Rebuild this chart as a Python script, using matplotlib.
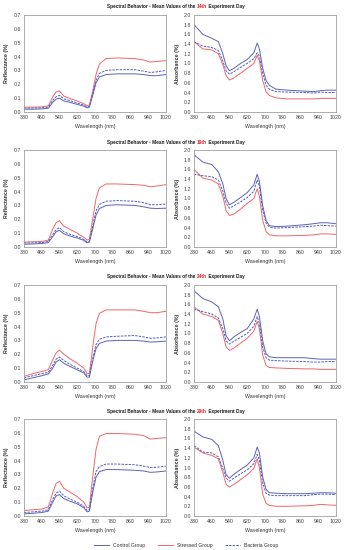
import matplotlib
matplotlib.use('Agg')
import matplotlib.pyplot as plt
from matplotlib.lines import Line2D

plt.rcParams['font.family'] = ['Liberation Sans', 'DejaVu Sans']
plt.rcParams['font.size'] = 4

# Данные
days = ['14th', '19th', '24th', '29th']
wl = [380, 420, 460, 490, 510, 525, 540, 560, 590, 620, 650, 665, 675,
      690, 705, 720, 750, 800, 880, 920, 950, 980, 1020]

refl_control = [
    [.02, .02, .022, .027, .07, .093, .1, .08, .068, .055, .042, .03, .035, .12, .21, .252, .27, .275, .275, .27, .262, .262, .27],
    [.02, .022, .025, .032, .075, .11, .12, .095, .078, .065, .048, .03, .035, .13, .23, .277, .3, .305, .3, .29, .28, .278, .28],
    [.015, .03, .045, .058, .1, .145, .16, .135, .11, .088, .065, .035, .035, .15, .24, .278, .295, .3, .3, .295, .288, .29, .295],
    [.015, .02, .025, .035, .1, .145, .155, .125, .105, .088, .06, .03, .035, .17, .28, .32, .335, .335, .33, .325, .315, .318, .325],
]
refl_stressed = [
    [.035, .035, .037, .045, .11, .145, .152, .115, .095, .08, .06, .045, .05, .15, .27, .345, .385, .39, .385, .375, .36, .365, .37],
    [.035, .038, .04, .05, .13, .175, .19, .15, .125, .1, .07, .05, .055, .2, .35, .425, .455, .455, .45, .445, .435, .44, .45],
    [.04, .06, .075, .09, .16, .21, .23, .2, .165, .135, .1, .06, .06, .25, .42, .495, .52, .52, .52, .51, .5, .5, .51],
    [.04, .045, .05, .065, .17, .235, .25, .2, .17, .14, .1, .06, .06, .28, .48, .575, .595, .595, .59, .58, .555, .56, .565],
]
refl_bacteria = [
    [.028, .028, .03, .035, .085, .11, .12, .095, .08, .065, .05, .035, .04, .13, .23, .278, .3, .305, .305, .295, .285, .29, .3],
    [.028, .03, .032, .04, .09, .125, .14, .11, .09, .075, .055, .035, .04, .15, .26, .307, .33, .335, .33, .32, .305, .305, .31],
    [.03, .045, .06, .07, .12, .165, .18, .155, .125, .1, .075, .045, .045, .17, .27, .308, .325, .33, .335, .325, .315, .318, .325],
    [.025, .03, .035, .045, .12, .165, .18, .145, .12, .1, .07, .04, .045, .2, .32, .356, .375, .375, .37, .36, .35, .352, .36],
]

abs_control = [
    [1.8, 1.6, 1.52, 1.45, 1.2, .95, .85, .9, 1.0, 1.08, 1.22, 1.42, 1.3, .9, .65, .55, .47, .45, .43, .42, .44, .45, .45],
    [1.9, 1.75, 1.7, 1.55, 1.3, 1.0, .87, .92, 1.02, 1.12, 1.28, 1.5, 1.35, .85, .55, .44, .42, .43, .46, .48, .5, .5, .48],
    [1.88, 1.72, 1.65, 1.55, 1.3, .95, .85, .93, 1.02, 1.1, 1.3, 1.5, 1.35, .85, .58, .52, .5, .5, .5, .48, .47, .47, .47],
    [1.75, 1.63, 1.58, 1.45, 1.15, .85, .78, .86, .96, 1.05, 1.2, 1.42, 1.3, .8, .55, .48, .47, .46, .46, .47, .48, .48, .47],
]
abs_stressed = [
    [1.45, 1.3, 1.28, 1.2, .98, .75, .66, .7, .8, .9, 1.0, 1.17, 1.05, .65, .42, .34, .29, .27, .27, .27, .28, .28, .28],
    [1.6, 1.42, 1.38, 1.3, 1.05, .75, .65, .68, .78, .9, 1.0, 1.2, 1.05, .55, .32, .25, .23, .23, .24, .25, .27, .27, .26],
    [1.55, 1.4, 1.35, 1.27, 1.0, .72, .65, .7, .8, .9, 1.05, 1.25, 1.1, .55, .34, .3, .29, .28, .27, .27, .26, .26, .26],
    [1.42, 1.3, 1.25, 1.18, .9, .65, .6, .65, .75, .85, .98, 1.18, 1.0, .45, .26, .22, .2, .2, .21, .22, .24, .23, .22],
]
abs_bacteria = [
    [1.45, 1.36, 1.33, 1.27, 1.05, .85, .78, .83, .92, 1.0, 1.1, 1.22, 1.15, .8, .55, .47, .42, .41, .4, .39, .41, .4, .4],
    [1.5, 1.47, 1.45, 1.38, 1.15, .9, .8, .85, .93, 1.02, 1.15, 1.38, 1.25, .75, .5, .41, .39, .4, .42, .43, .45, .44, .43],
    [1.5, 1.45, 1.4, 1.32, 1.1, .85, .78, .84, .92, 1.0, 1.15, 1.35, 1.2, .72, .5, .45, .44, .43, .42, .41, .41, .42, .42],
    [1.45, 1.32, 1.3, 1.22, .98, .78, .72, .78, .87, .95, 1.08, 1.27, 1.15, .68, .47, .43, .42, .42, .42, .44, .45, .45, .44],
]

xticks = [380, 460, 540, 620, 700, 780, 860, 940, 1020]

c_control = '#5c62b8'
c_stressed = '#f0666a'
c_bacteria = '#4f5fbf'
lw = 0.7
dash = (0, (2.5, 1.2))

fig = plt.figure(figsize=(3.47, 5.5), dpi=100)
fig.patch.set_facecolor('white')

bottoms = [0.7964, 0.5509, 0.3055, 0.0618]
title_y = [0.992, 0.745, 0.501, 0.257]
h = 0.1764


def style_axes(ax, ymax, ystep, ylabel):
    ax.set_xlim(380, 1020)
    ax.set_xticks(xticks)
    ax.set_ylim(0, ymax)
    ax.set_yticks([round(i * ystep, 2) for i in range(int(round(ymax / ystep)) + 1)])
    ax.yaxis.set_major_formatter(plt.FuncFormatter(lambda v, p: f'{v:.1f}'))
    ax.tick_params(length=0, pad=2, labelsize=3.8, colors='#404040')
    for s in ax.spines.values():
        s.set_color('#a0a0a0')
        s.set_linewidth(0.6)
    ax.set_xlabel('Wavelength (nm)', fontsize=3.8, color='#303030', labelpad=3)
    ax.set_ylabel(ylabel, fontsize=3.8, fontweight='bold', color='#303030', labelpad=3)


for i, day in enumerate(days):
    ax1 = fig.add_axes([0.069, bottoms[i], 0.409, h])
    ax1.plot(wl, refl_control[i], color=c_control, lw=lw)
    ax1.plot(wl, refl_stressed[i], color=c_stressed, lw=lw)
    ax1.plot(wl, refl_bacteria[i], color=c_bacteria, lw=lw, ls=dash)
    style_axes(ax1, 0.7, 0.1, 'Reflectance (%)')

    ax2 = fig.add_axes([0.559, bottoms[i], 0.409, h])
    ax2.plot(wl, abs_control[i], color=c_control, lw=lw)
    ax2.plot(wl, abs_stressed[i], color=c_stressed, lw=lw)
    ax2.plot(wl, abs_bacteria[i], color=c_bacteria, lw=lw, ls=dash)
    style_axes(ax2, 2.0, 0.2, 'Absorbance (%)')

    # Заголовок из трёх частей (день выделен красным)
    parts = [('Spectral Behavior - Mean Values of the ', '#1a1a1a'),
             (day, '#e8202a'),
             (' Experiment Day', '#1a1a1a')]
    fig.canvas.draw()
    r = fig.canvas.get_renderer()
    texts = [fig.text(0, title_y[i], s, color=c, fontsize=3.4, fontweight='bold',
                      va='top', ha='left') for s, c in parts]
    widths = [t.get_window_extent(r).width / fig.bbox.width for t in texts]
    x = 0.507 - sum(widths) / 2
    for t, w in zip(texts, widths):
        t.set_x(x)
        x += w

handles = [Line2D([], [], color=c_control, lw=lw),
           Line2D([], [], color=c_stressed, lw=lw),
           Line2D([], [], color=c_bacteria, lw=lw, ls=dash)]
fig.legend(handles, ['Control Group', 'Stressed Group', 'Bacteria Group'],
           loc='lower center', bbox_to_anchor=(0.536, -0.004), ncol=3,
           frameon=False, fontsize=3.6, handlelength=3, columnspacing=2.5,
           handletextpad=0.8, labelcolor='#303030')

fig.savefig('out.png', dpi=100, facecolor='white')
